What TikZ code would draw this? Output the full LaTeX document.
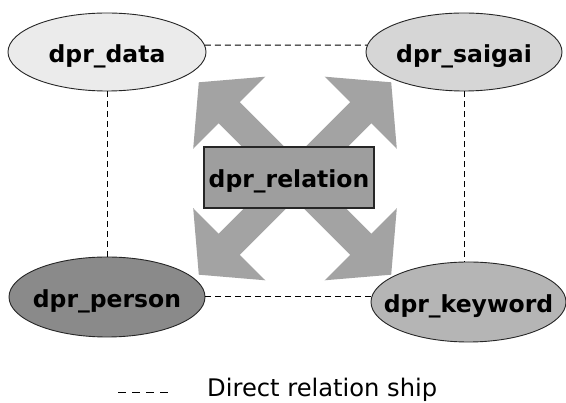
\documentclass[tikz,border=0pt]{standalone}
\usepackage{fontspec}
\setmainfont{DejaVu Sans}
\usetikzlibrary{shapes.geometric}
\definecolor{cdata}{HTML}{EBEBEB}
\definecolor{csaigai}{HTML}{D6D6D6}
\definecolor{cperson}{HTML}{8A8A8A}
\definecolor{ckeyword}{HTML}{B5B5B5}
\definecolor{cbox}{HTML}{9E9E9E}
\definecolor{carrow}{HTML}{A3A3A3}
\begin{document}
\begin{tikzpicture}[x=1pt,y=-1pt,
  ell/.style={ellipse, draw=black!85, line width=0.9pt, inner sep=0pt},
  lbl/.style={font=\fontsize{23.5}{28}\selectfont\bfseries, inner sep=0pt, yshift=-4pt},
  conn/.style={line width=1pt, dash pattern=on 6pt off 4pt},
  bigarrow/.style={fill=carrow, draw=none}]
\fill[white] (0,0) rectangle (566,403);
\useasboundingbox (0,0) rectangle (566,403);
% four-way arrow behind the relation box
\fill[bigarrow] (391.2,274.7) -- (396.8,208.2) -- (371.4,233.7) -- (239.8,102.1) -- (265.3,76.7) -- (198.8,82.3) -- (193.2,148.8) -- (218.6,123.3) -- (350.2,254.9) -- (324.7,280.3) -- cycle;
\fill[bigarrow] (391.2,82.3) -- (396.8,148.8) -- (371.4,123.3) -- (239.8,254.9) -- (265.3,280.3) -- (198.8,274.7) -- (193.2,208.2) -- (218.6,233.7) -- (350.2,102.1) -- (324.7,76.7) -- cycle;
% nodes
\node[ell, fill=cdata, minimum width=198pt, minimum height=78pt, label={[lbl]center:dpr\_data}] (data) at (107,52) {};
\node[ell, fill=csaigai, minimum width=196pt, minimum height=78pt, label={[lbl]center:dpr\_saigai}] (saigai) at (464,52) {};
\node[ell, fill=cperson, minimum width=196pt, minimum height=80pt, label={[lbl]center:dpr\_person}] (person) at (107,297) {};
\node[ell, fill=ckeyword, minimum width=195pt, minimum height=80pt, label={[lbl]center:dpr\_keyword}] (keyword) at (468.5,302) {};
\node[draw=black!85, line width=1.1pt, fill=cbox, minimum width=170pt, minimum height=61pt, inner sep=0pt, label={[lbl]center:dpr\_relation}] (rel) at (289,177.5) {};
% direct relationships
\draw[conn] (data.4) -- (saigai.176);
\draw[conn] (data.south) -- (person.north);
\draw[conn] (saigai.south) -- (saigai.south |- keyword.north);
\draw[conn] (person.east) -- (person.east -| keyword.west);
% legend
\coordinate (lega) at (118,392.5);
\coordinate (legb) at (168,392.5);
\draw[line width=1pt, dash pattern=on 8pt off 6pt] (lega) -- (legb);
\node[anchor=base west, inner sep=0pt, font=\fontsize{24.2}{28}\selectfont] (legtext) at (207,397) {Direct relation ship};
\end{tikzpicture}
\end{document}
